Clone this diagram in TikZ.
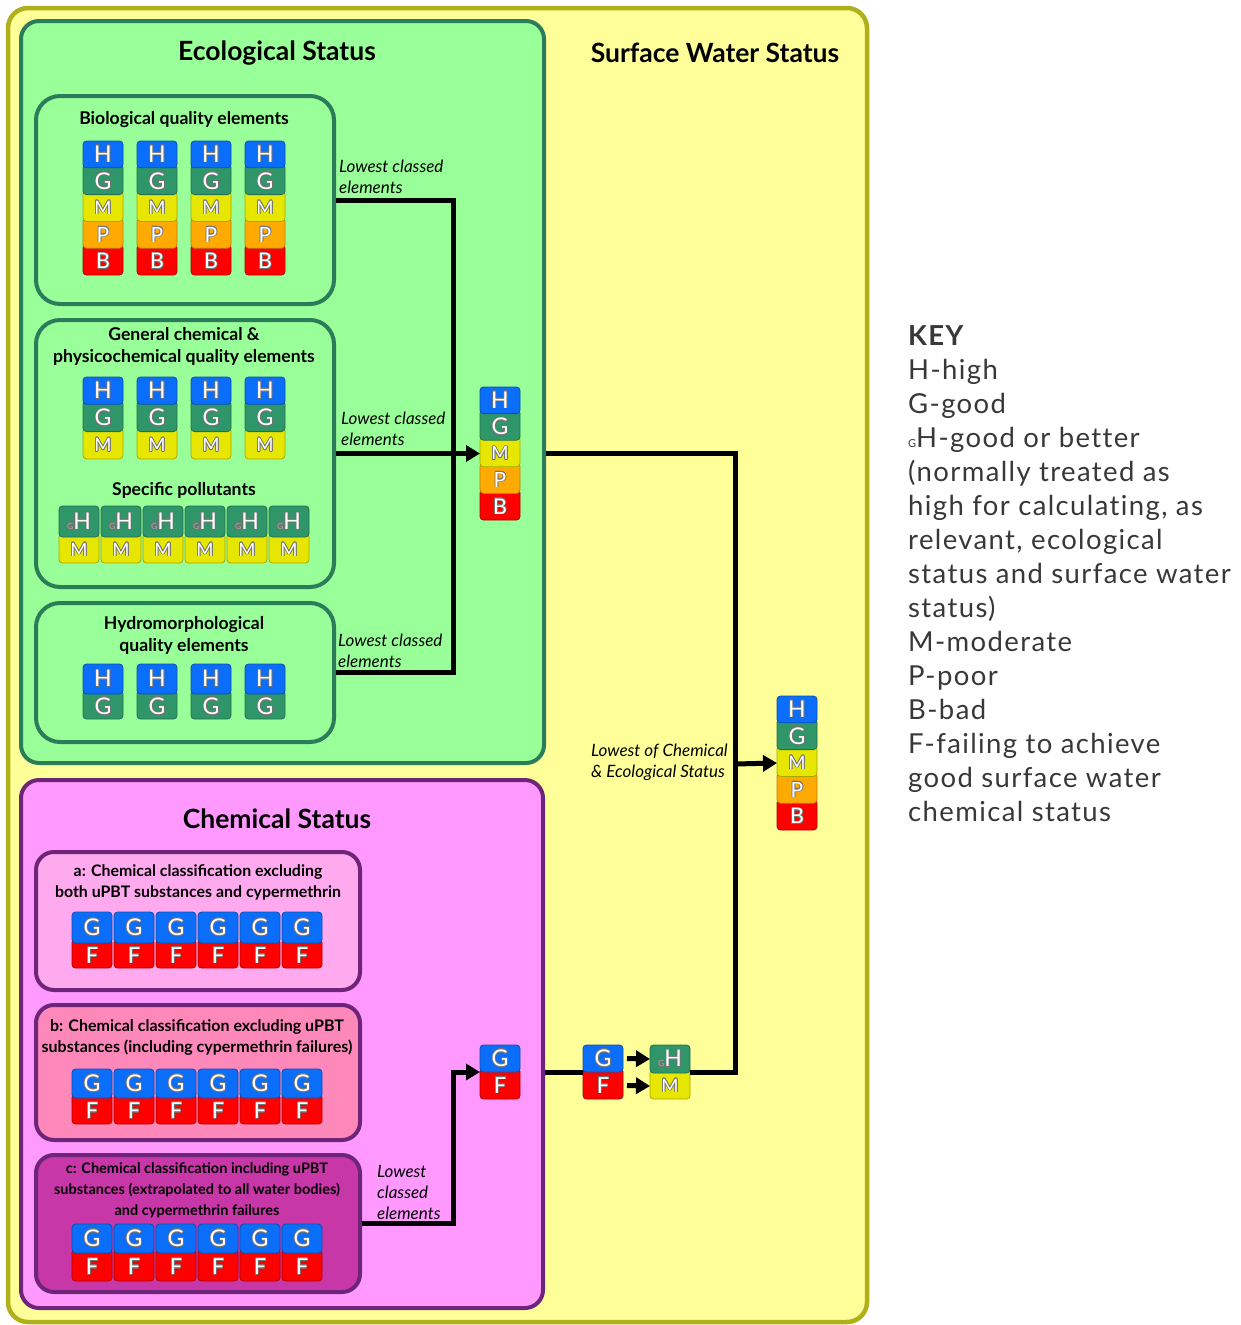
\documentclass[tikz,border=0pt]{standalone}
\usepackage{fontspec}
\setmainfont{Lato}
\newfontfamily\keyfont{Lato}[LetterSpace=5,Ligatures={NoCommon}]
\usepackage[copies]{contour}
\contourlength{0.65pt}
\contournumber{16}
\usetikzlibrary{arrows.meta}
\definecolor{colH}{HTML}{0A6EFA}\definecolor{colHd}{HTML}{0A4FB0}
\definecolor{colG}{HTML}{2E9668}\definecolor{colGd}{HTML}{237050}
\definecolor{colM}{HTML}{E6E600}\definecolor{colMd}{HTML}{A8A800}
\definecolor{colP}{HTML}{FFAA00}\definecolor{colPd}{HTML}{C07F00}
\definecolor{colB}{HTML}{FF0000}\definecolor{colBd}{HTML}{B00000}
\definecolor{yelfill}{HTML}{FFFF99}\definecolor{yeldraw}{HTML}{B0B01A}
\definecolor{ecofill}{HTML}{99FF99}\definecolor{ecodraw}{HTML}{2B7D5A}
\definecolor{chemfill}{HTML}{FF99FF}\definecolor{chemdraw}{HTML}{6E2478}
\definecolor{chemAfill}{HTML}{FFAAEE}\definecolor{chemBfill}{HTML}{FF88BB}
\definecolor{chemCfill}{HTML}{C837A8}\definecolor{keygray}{HTML}{383838}
\tikzset{
  cellbox/.style={line width=0.8pt, rounded corners=3.5pt},
  cH/.style={fill=colH, draw=colHd}, tH/.style={font=\fontsize{23}{23}\selectfont},
  cG/.style={fill=colG, draw=colGd}, tG/.style={font=\fontsize{23}{23}\selectfont},
  cGH/.style={fill=colG, draw=colGd}, tGH/.style={font=\fontsize{23}{23}\selectfont},
  cM/.style={fill=colM, draw=colMd}, tM/.style={font=\fontsize{18.5}{18.5}\selectfont},
  cP/.style={fill=colP, draw=colPd}, tP/.style={font=\fontsize{21}{21}\selectfont},
  cB/.style={fill=colB, draw=colBd}, tB/.style={font=\fontsize{21.5}{21.5}\selectfont},
  cF/.style={fill=colB, draw=colBd}, tF/.style={font=\fontsize{22}{22}\selectfont},
  celltxt/.style={text=white, inner sep=0pt, outer sep=0pt},
  bigbox/.style={line width=4.5pt, rounded corners=20pt, inner sep=0pt},
  subbox/.style={line width=4pt, rounded corners=24pt, inner sep=0pt, draw=ecodraw, fill=ecofill},
  chembox/.style={line width=4pt, rounded corners=18pt, inner sep=0pt, draw=chemdraw},
  ttl/.style={font=\bfseries\fontsize{26.5}{30}\selectfont, inner sep=0pt},
  stl/.style={font=\bfseries\fontsize{17.6}{22}\selectfont, align=center, inner sep=0pt},
  lbl/.style={font=\itshape\fontsize{17}{21}\selectfont, align=left, inner sep=0pt},
  keytxt/.style={font=\keyfont\fontsize{27.5}{34}\selectfont, text=keygray, align=left, inner sep=0pt},
  conn/.style={line width=5pt, line join=miter},
  arr/.style={line width=5pt, line join=miter, -{Triangle[length=14pt,width=16pt]}},
}
\newcommand\gsmall{{\fontsize{8.5}{8.5}\selectfont\textcolor{black!35}{G}}}
% name, x, ytop, ybottom, style, letter, extension
\newcommand\gcell[7]{%
  \path[cellbox,c#5] ({#2-20},{(#3)-(#7)}) rectangle ({#2+20},{#4});
  \node[celltxt, minimum width=40pt, minimum height={((#4)-(#3))*1pt}] (#1) at (#2,{((#3)+(#4))/2}) {};
  \node[celltxt,t#5] at (#1.center) {\contour{black!55}{#6}};}
\newcommand\fivestack[4]{%
  \gcell{#1-b}{#2}{#3+4*#4}{#3+5*#4}{B}{B}{4}%
  \gcell{#1-p}{#2}{#3+3*#4}{#3+4*#4}{P}{P}{4}%
  \gcell{#1-m}{#2}{#3+2*#4}{#3+3*#4}{M}{M}{4}%
  \gcell{#1-g}{#2}{#3+1*#4}{#3+2*#4}{G}{G}{4}%
  \gcell{#1-h}{#2}{#3}{#3+#4}{H}{H}{0}}
\newcommand\threestack[4]{%
  \gcell{#1-m}{#2}{#3+2*#4}{#3+3*#4}{M}{M}{4}%
  \gcell{#1-g}{#2}{#3+1*#4}{#3+2*#4}{G}{G}{4}%
  \gcell{#1-h}{#2}{#3}{#3+#4}{H}{H}{0}}
% prefix, x, ytop, ymid, ybot, top style, top letter, bottom style, bottom letter
\newcommand\twostack[9]{%
  \gcell{#1-b}{#2}{#4}{#5}{#8}{#9}{4}%
  \gcell{#1-t}{#2}{#3}{#4}{#6}{#7}{0}}
\begin{document}
\begin{tikzpicture}[x=1pt,y=-1pt]
\useasboundingbox (0,0) rectangle (1240,1325);
\fill[white] (0,0) rectangle (1240,1325);
% boxes
\node[bigbox, draw=yeldraw, fill=yelfill, minimum width=859pt, minimum height=1314pt] (outer) at (437.5,665) {};
\node[bigbox, line width=4pt, rounded corners=18pt, draw=ecodraw, fill=ecofill, minimum width=523pt, minimum height=742pt] (eco) at (282.5,392) {};
\node[subbox, minimum width=298pt, minimum height=208pt] (bio) at (185,200) {};
\node[subbox, minimum width=298pt, minimum height=267pt] (gen) at (185,453.5) {};
\node[subbox, minimum width=298pt, minimum height=139pt] (hydro) at (185,672.5) {};
\node[bigbox, line width=4pt, rounded corners=18pt, draw=chemdraw, fill=chemfill, minimum width=522pt, minimum height=528pt] (chem) at (282,1044) {};
\node[chembox, fill=chemAfill, minimum width=324pt, minimum height=138pt] (chemA) at (198,921) {};
\node[chembox, fill=chemBfill, minimum width=324pt, minimum height=135pt] (chemB) at (198,1072.5) {};
\node[chembox, fill=chemCfill, minimum width=324pt, minimum height=137pt] (chemC) at (198,1223.5) {};
% titles
\node[ttl] (ecoT) at (277,53) {Ecological Status};
\node[ttl] (swsT) at (715,53) {Surface Water Status};
\node[ttl] (chemT) at (277,819) {Chemical Status};
\node[stl] (bioT) at (184,120) {Biological quality elements};
\node[stl] (genT) at (184,346) {General chemical \&\\physicochemical quality elements};
\node[stl] (spT) at (184,490) {Specific pollutants};
\node[stl] (hydroT) at (184,635) {Hydromorphological\\quality elements};
\node[stl, font=\bfseries\fontsize{15.9}{21}\selectfont] (chemAT) at (198,882) {a: Chemical classification excluding\\both uPBT substances and cypermethrin};
\node[stl, font=\bfseries\fontsize{16}{21}\selectfont] (chemBT) at (197,1037) {b: Chemical classification excluding uPBT\\substances (including cypermethrin failures)};
\node[stl, font=\bfseries\fontsize{14.5}{21}\selectfont] (chemCT) at (197,1190) {c: Chemical classification including uPBT\\substances (extrapolated to all water bodies)\\and cypermethrin failures};
% cells
\foreach \x [count=\i] in {103,157,211,265} {\fivestack{bio\i}{\x}{141}{26.8}}
\foreach \x [count=\i] in {103,157,211,265} {\threestack{gen\i}{\x}{377}{27.3}}
\foreach \x [count=\i] in {79,121,163,205,247,289} {\twostack{sp\i}{\x}{506}{537}{563}{GH}{\gsmall H}{M}{M}}
\foreach \x [count=\i] in {103,157,211,265} {\twostack{hy\i}{\x}{664}{694}{719}{H}{H}{G}{G}}
\foreach \x [count=\i] in {92,134,176,218,260,302} {\twostack{ca\i}{\x}{912}{943}{968}{H}{G}{F}{F}}
\foreach \x [count=\i] in {92,134,176,218,260,302} {\twostack{cb\i}{\x}{1069}{1098}{1124}{H}{G}{F}{F}}
\foreach \x [count=\i] in {92,134,176,218,260,302} {\twostack{cc\i}{\x}{1224}{1253}{1281}{H}{G}{F}{F}}
\fivestack{ecoS}{500}{387}{26.6}
\fivestack{fin}{797}{696}{26.8}
\twostack{chS}{500}{1045}{1072}{1099}{H}{G}{F}{F}
\twostack{gf}{603}{1045}{1072}{1099}{H}{G}{F}{F}
\twostack{ghm}{670}{1045}{1073}{1099}{GH}{\gsmall H}{M}{M}
% labels
\node[lbl, anchor=west] (l1) at (339,177) {Lowest classed\\elements};
\node[lbl, anchor=west] (l2) at (341,429) {Lowest classed\\elements};
\node[lbl, anchor=west] (l3) at (338,651) {Lowest classed\\elements};
\node[lbl, anchor=west] (l4) at (377,1192) {Lowest\\classed\\elements};
\node[lbl, anchor=west] (l5) at (591,762) {Lowest of Chemical\\\& Ecological Status};
% connectors
\coordinate (jx) at (453,453);
\coordinate (vb) at (735,1072);
\coordinate (vm) at (735,764);
\coordinate (cj) at (453,1072);
\coordinate (gfL) at (583,1072);
\coordinate (ghmR) at (690,1072);
\draw[conn] (bio.east) -| (jx);
\draw[conn] (hydro.east) -| (jx);
\draw[arr] (gen.east |- ecoS-m.west) -- (ecoS-m.west);
\draw[conn] (eco.east |- ecoS-m.east) -| (vb) -- (ghmR);
\draw[arr] (vm) -- (fin-m.west);
\draw[arr] (chemC.east) -| (cj) -- (chS-t.south west);
\draw[conn] (chem.east |- cj) -- (gfL);
\draw[arr, shorten <=4pt] (gf-t.east) -- (ghm-t.west);
\draw[arr, shorten <=4pt] (gf-b.east) -- (ghm-b.west);
% key
\node[keytxt, anchor=north west] (key) at (908,325) {\textbf{KEY}\\H-high\\G-good\\{\fontsize{11}{11}\selectfont G}H-good or better\\(normally treated as\\high for calculating, as\\relevant, ecological\\status and surface water\\status)\\M-moderate\\P-poor\\B-bad\\F-failing to achieve\\good surface water\\chemical status};
\end{tikzpicture}
\end{document}
